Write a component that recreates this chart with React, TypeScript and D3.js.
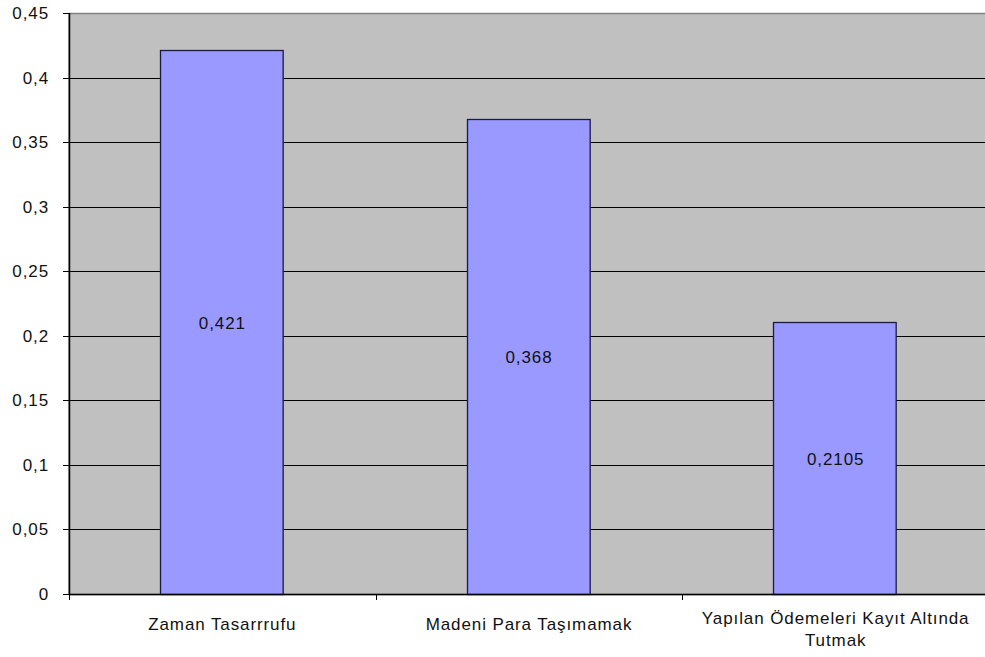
import React, { useEffect, useRef } from 'react';
import * as d3 from 'd3';

const categories = ['Zaman Tasarrrufu', 'Madeni Para Taşımamak', 'Yapılan Ödemeleri Kayıt Altında Tutmak'];
const categoryLines = [['Zaman Tasarrrufu'], ['Madeni Para Taşımamak'], ['Yapılan Ödemeleri Kayıt Altında', 'Tutmak']];
const values = [0.421, 0.368, 0.2105];
const valueLabels = ['0,421', '0,368', '0,2105'];
const yTicks = [0, 0.05, 0.1, 0.15, 0.2, 0.25, 0.3, 0.35, 0.4, 0.45];

const FONT = 'Arial, "Liberation Sans", sans-serif';
const SPACING = 0.9;

const App: React.FC = () => {
  const svgRef = useRef<SVGSVGElement>(null);

  useEffect(() => {
    if (!svgRef.current) return;
    const width = 985;
    const height = 657;
    const margin = { top: 13, right: -4, bottom: 63, left: 69 };
    const innerW = width - margin.left - margin.right;
    const innerH = height - margin.top - margin.bottom;

    const svg = d3.select(svgRef.current);
    svg.selectAll('*').remove();

    const g = svg.append('g').attr('transform', `translate(${margin.left},${margin.top})`);

    const x = d3.scaleBand<string>().domain(categories).range([0, innerW]).paddingInner(0.6).paddingOuter(0.3);
    const band = d3.scaleBand<string>().domain(categories).range([0, innerW]);
    const y = d3.scaleLinear().domain([0, 0.45]).range([innerH, 0]);

    // plot background
    g.append('rect')
      .attr('x', 0).attr('y', 0.5)
      .attr('width', innerW).attr('height', innerH)
      .attr('fill', '#c0c0c0')
      .attr('stroke', '#808080')
      .attr('stroke-width', 1.5);

    // grid lines
    g.selectAll('.grid')
      .data(yTicks.filter((t) => t > 0 && t < 0.45))
      .enter()
      .append('line')
      .attr('x1', 0).attr('x2', innerW)
      .attr('y1', (d) => Math.round(y(d)) + 0.5)
      .attr('y2', (d) => Math.round(y(d)) + 0.5)
      .attr('stroke', '#000')
      .attr('stroke-width', 1);

    // bars
    g.selectAll('.bar')
      .data(values)
      .enter()
      .append('rect')
      .attr('x', (_, i) => Math.round(x(categories[i])!) - 0.5)
      .attr('y', (d) => Math.round(y(d)) + 0.5)
      .attr('width', x.bandwidth())
      .attr('height', (d) => innerH - Math.round(y(d)))
      .attr('fill', '#9999ff')
      .attr('stroke', '#1a1a40')
      .attr('stroke-width', 1.3);

    // value labels
    g.selectAll('.vlabel')
      .data(values)
      .enter()
      .append('text')
      .attr('x', (_, i) => x(categories[i])! + x.bandwidth() / 2)
      .attr('y', (d) => y(d / 2) + 7)
      .attr('text-anchor', 'middle')
      .attr('font-family', FONT)
      .attr('font-size', 17)
      .attr('letter-spacing', SPACING)
      .attr('fill', '#111')
      .text((_, i) => valueLabels[i]);

    // y axis
    g.append('line')
      .attr('x1', 0.5).attr('x2', 0.5)
      .attr('y1', 0).attr('y2', innerH)
      .attr('stroke', '#000').attr('stroke-width', 1.5);
    const yt = g.selectAll('.ytick').data(yTicks).enter().append('g')
      .attr('transform', (d) => `translate(0,${Math.round(y(d)) + 0.5})`);
    yt.append('line').attr('x1', -6).attr('x2', 0).attr('stroke', '#000');
    yt.append('text')
      .attr('x', -20)
      .attr('dy', '0.35em')
      .attr('text-anchor', 'end')
      .attr('font-family', FONT)
      .attr('font-size', 17)
      .attr('letter-spacing', SPACING)
      .attr('fill', '#111')
      .text((d) => d3.format('~g')(d).replace('.', ','));

    // x axis
    g.append('line')
      .attr('x1', 0).attr('x2', innerW)
      .attr('y1', innerH + 0.5).attr('y2', innerH + 0.5)
      .attr('stroke', '#000').attr('stroke-width', 1.5);
    g.selectAll('.xtick')
      .data(categories)
      .enter()
      .append('line')
      .attr('x1', (d) => Math.round(band(d)!) + 0.5)
      .attr('x2', (d) => Math.round(band(d)!) + 0.5)
      .attr('y1', innerH).attr('y2', innerH + 6)
      .attr('stroke', '#000');

    const xl = g.selectAll('.xlabel')
      .data(categories)
      .enter()
      .append('text')
      .attr('x', (d) => x(d)! + x.bandwidth() / 2)
      .attr('y', (_, i) => innerH + (categoryLines[i].length > 1 ? 30 : 36))
      .attr('text-anchor', 'middle')
      .attr('font-family', FONT)
      .attr('font-size', 17)
      .attr('letter-spacing', SPACING)
      .attr('fill', '#111');
    xl.selectAll('tspan')
      .data((_, i) => categoryLines[i].map((t) => ({ t })))
      .enter()
      .append('tspan')
      .attr('x', function () { return (this.parentNode as SVGTextElement).getAttribute('x'); })
      .attr('dy', (_, j) => (j === 0 ? 0 : 22))
      .text((d) => d.t);
  }, []);

  return (
    <div style={{ position: 'absolute', left: 0, top: 0, width: 985, height: 657, background: '#fff', overflow: 'hidden' }}>
      <svg ref={svgRef} width={985} height={657} style={{ display: 'block' }} />
    </div>
  );
};

export default App;
